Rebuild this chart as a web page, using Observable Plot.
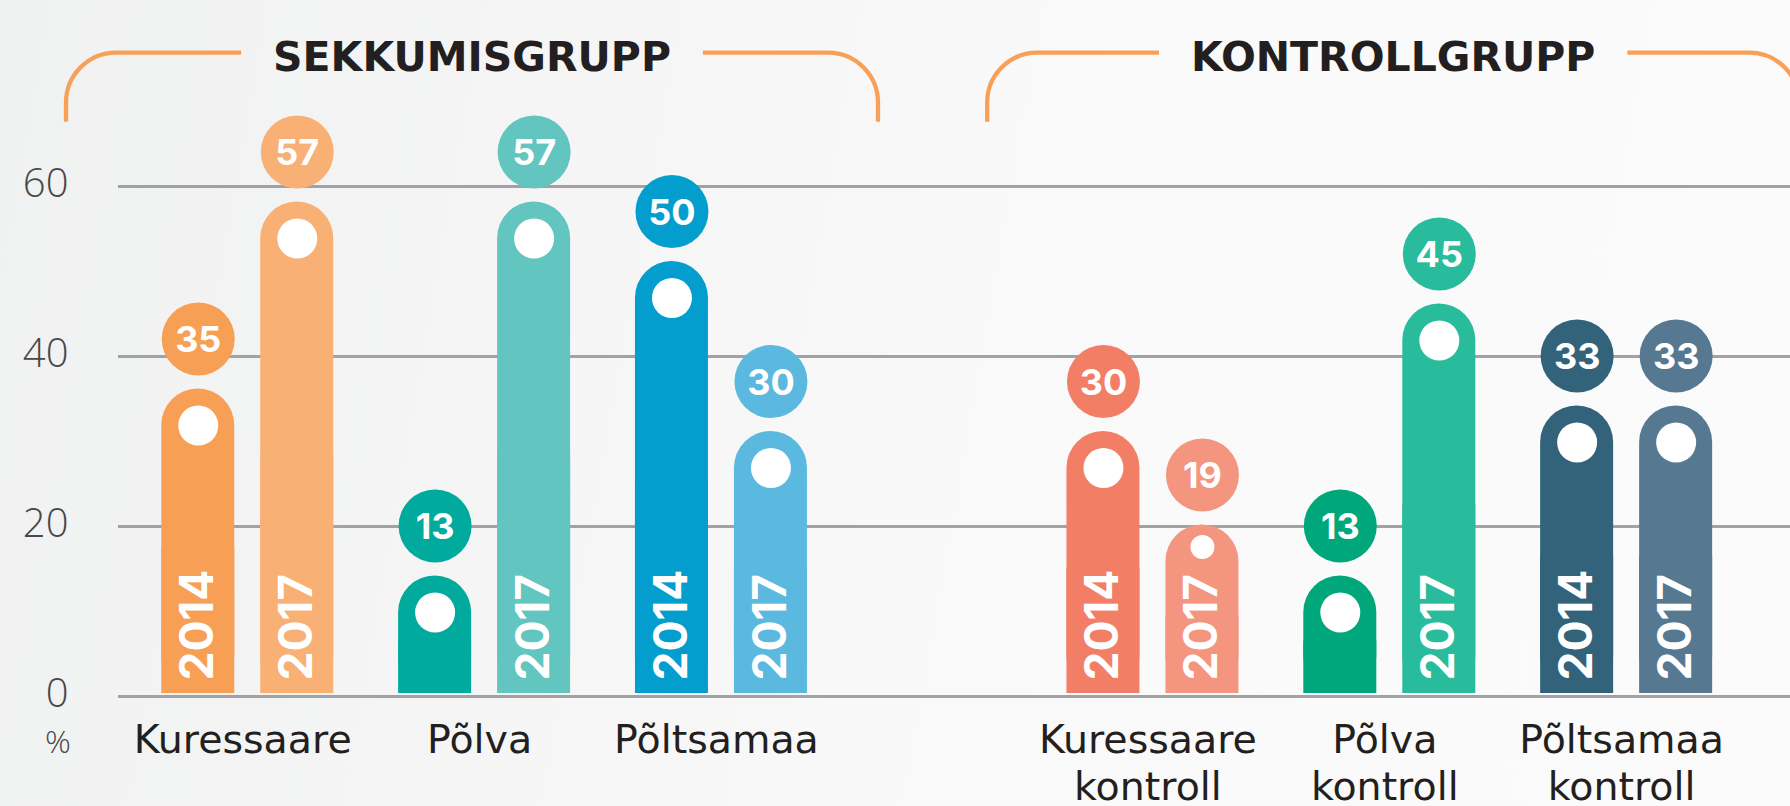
<!DOCTYPE html>
<html>
<head>
<meta charset="utf-8">
<script src="https://cdn.jsdelivr.net/npm/d3@7"></script>
<script src="https://cdn.jsdelivr.net/npm/@observablehq/plot@0.6"></script>
<style>
  html, body { margin: 0; padding: 0; }
  body {
    width: 1790px; height: 806px; overflow: hidden;
    background: linear-gradient(100deg, #f0f1f1 0%, #f5f5f5 30%, #f9f9f9 55%, #fbfbfb 100%);
  }
  #chart svg { display: block; }
</style>
</head>
<body>
<div id="chart"></div>
<script>
// ---------- data ----------
const groups = ["SEKKUMISGRUPP", "KONTROLLGRUPP"];
const locations = ["Kuressaare", "Põlva", "Põltsamaa", "Kuressaare kontroll", "Põlva kontroll", "Põltsamaa kontroll"];
const locationGroup = [0, 0, 0, 1, 1, 1];
const years = ["2014", "2017"];
const values2014 = [35, 13, 50, 30, 13, 33];
const values2017 = [57, 57, 30, 19, 45, 33];
const colors2014 = ["#f89f56", "#00ab9e", "#039ece", "#f37e66", "#00a77b", "#33627b"];
const colors2017 = ["#f9b074", "#63c5bf", "#5bb8de", "#f4957f", "#28bc9d", "#567991"];
const yTicks = [0, 20, 40, 60];
const percentLabel = "%";

// ---------- table built from the arrays ----------
const rows = [];
locations.forEach((loc, i) => {
  rows.push({location: loc, group: locationGroup[i], year: years[0], value: values2014[i], color: colors2014[i]});
  rows.push({location: loc, group: locationGroup[i], year: years[1], value: values2017[i], color: colors2017[i]});
});

// ---------- layout / style ----------
const spacer = " ";
const xDomain = [...locations.filter((_, i) => locationGroup[i] === 0), spacer, ...locations.filter((_, i) => locationGroup[i] === 1)];
const groupDx = [3.8, -38.4];
const titleDx = [-12.6, 3.4];
const yearDx = [-49.5, 49.5];
const labelMin = 15;      // year written inside the bar only when tall enough
const ink = "#231f20";
const tickInk = "#48484b";

const marks = [
  Plot.ruleY(yTicks, {y: d => d, stroke: "#a2a2a6", strokeWidth: 3})
];

for (let g = 0; g < groups.length; g++) {
  for (let yi = 0; yi < years.length; yi++) {
    const sub = rows.filter(d => d.group === g && d.year === years[yi]);
    const dx = groupDx[g] + yearDx[yi];
    const small = d => d.value >= labelMin && d.value < 22;
    marks.push(
      Plot.barY(sub, {x: "location", y1: 0, y2: "value", fill: "color", rx: 36.5, insetTop: -10, insetBottom: 3, dx}),
      Plot.barY(sub, {x: "location", y1: 0, y2: d => d.value / 2, fill: "color", insetBottom: 3, dx}),
      Plot.dot(sub.filter(d => !small(d)), {x: "location", y: "value", r: 20, fill: "white", dx, dy: 26.5}),
      Plot.dot(sub.filter(small), {x: "location", y: "value", r: 12, fill: "white", dx, dy: 12}),
      Plot.dot(sub, {x: "location", y: "value", r: 36.5, fill: "color", dx, dy: -60}),
      Plot.text(sub, {x: "location", y: "value", text: d => String(d.value), fill: "white",
        fontSize: 36, fontWeight: 700, fontFamily: "Inter, 'DejaVu Sans', sans-serif", dx, dy: -58.5}),
      Plot.text(sub.filter(d => d.value >= labelMin), {x: "location", y: 0, text: "year", rotate: -90,
        textAnchor: "start", lineAnchor: "middle", fill: "white", fontSize: 46, fontWeight: 700,
        fontFamily: "Inter, 'DejaVu Sans', sans-serif", dx, dy: -16})
    );
  }
  const groupLocs = locations.filter((_, i) => locationGroup[i] === g);
  // category labels under the bars (first word, then the rest on a second line)
  const firstWord = d => d.split(" ")[0];
  const restWords = d => d.split(" ").slice(1).join(" ");
  marks.push(
    Plot.text(groupLocs, {x: d => d, y: 0, text: firstWord, lineAnchor: "top",
      dy: 28, dx: groupDx[g] - 5, fontSize: 39.5, fontFamily: "'DejaVu Sans', sans-serif", fill: ink}),
    Plot.text(groupLocs.filter(d => restWords(d) !== ""), {x: d => d, y: 0, text: restWords, lineAnchor: "top",
      dy: 75, dx: groupDx[g] - 5, fontSize: 39.5, fontFamily: "'DejaVu Sans', sans-serif", fill: ink})
  );
  // group title
  const mid = groupLocs[1];
  marks.push(
    Plot.text([groups[g]], {x: () => mid, frameAnchor: "top", text: d => d, lineAnchor: "middle",
      dy: -129, dx: groupDx[g] + titleDx[g], fontSize: 41, fontWeight: 700,
      fontFamily: "'DejaVu Sans', sans-serif", fill: ink})
  );
}

// y tick labels and unit
marks.push(
  Plot.text(yTicks, {y: d => d, frameAnchor: "left", text: d => String(d), textAnchor: "end",
    lineAnchor: "middle", dx: -50, dy: -2, fontSize: 40, fontWeight: 300,
    fontFamily: "'Open Sans', sans-serif", fill: tickInk}),
  Plot.text([percentLabel], {frameAnchor: "bottom-left", text: d => d, textAnchor: "middle",
    lineAnchor: "middle", dx: -60.5, dy: 46, fontSize: 32, fontWeight: 300,
    fontFamily: "'Open Sans', sans-serif", fill: tickInk})
);

const chart = Plot.plot({
  width: 1790,
  height: 806,
  marginLeft: 118,
  marginRight: 0,
  marginTop: 186,
  marginBottom: 110,
  style: {background: "transparent", overflow: "visible"},
  x: {type: "band", domain: xDomain, paddingInner: 0.6918, paddingOuter: 0.3756, round: false, axis: null},
  y: {domain: [0, 60], axis: null},
  color: {type: "identity"},
  marks
});

document.getElementById("chart").appendChild(chart);

// ---------- orange brackets around the group titles ----------
const svg = d3.select(chart);
const svgRect = chart.getBoundingClientRect();
const bracketTop = 52.7, bracketBottom = 121.7, halfWidth = 406, corner = 50, gap = 32;
const bracketLayer = svg.append("g").attr("fill", "none").attr("stroke", "#f9a058")
  .attr("stroke-width", 4.3).attr("stroke-linecap", "butt");
svg.selectAll("text").each(function () {
  const t = this.textContent;
  if (!groups.includes(t)) return;
  const b = this.getBoundingClientRect();
  const left = b.left - svgRect.left, right = b.right - svgRect.left;
  const cx = (left + right) / 2;
  const L = cx - halfWidth, R = cx + halfWidth;
  bracketLayer.append("path").attr("d",
    `M${L},${bracketBottom} V${bracketTop + corner} A${corner},${corner} 0 0 1 ${L + corner},${bracketTop} H${left - gap}`);
  bracketLayer.append("path").attr("d",
    `M${right + gap},${bracketTop} H${R - corner} A${corner},${corner} 0 0 1 ${R},${bracketTop + corner} V${bracketBottom}`);
});
</script>
</body>
</html>
